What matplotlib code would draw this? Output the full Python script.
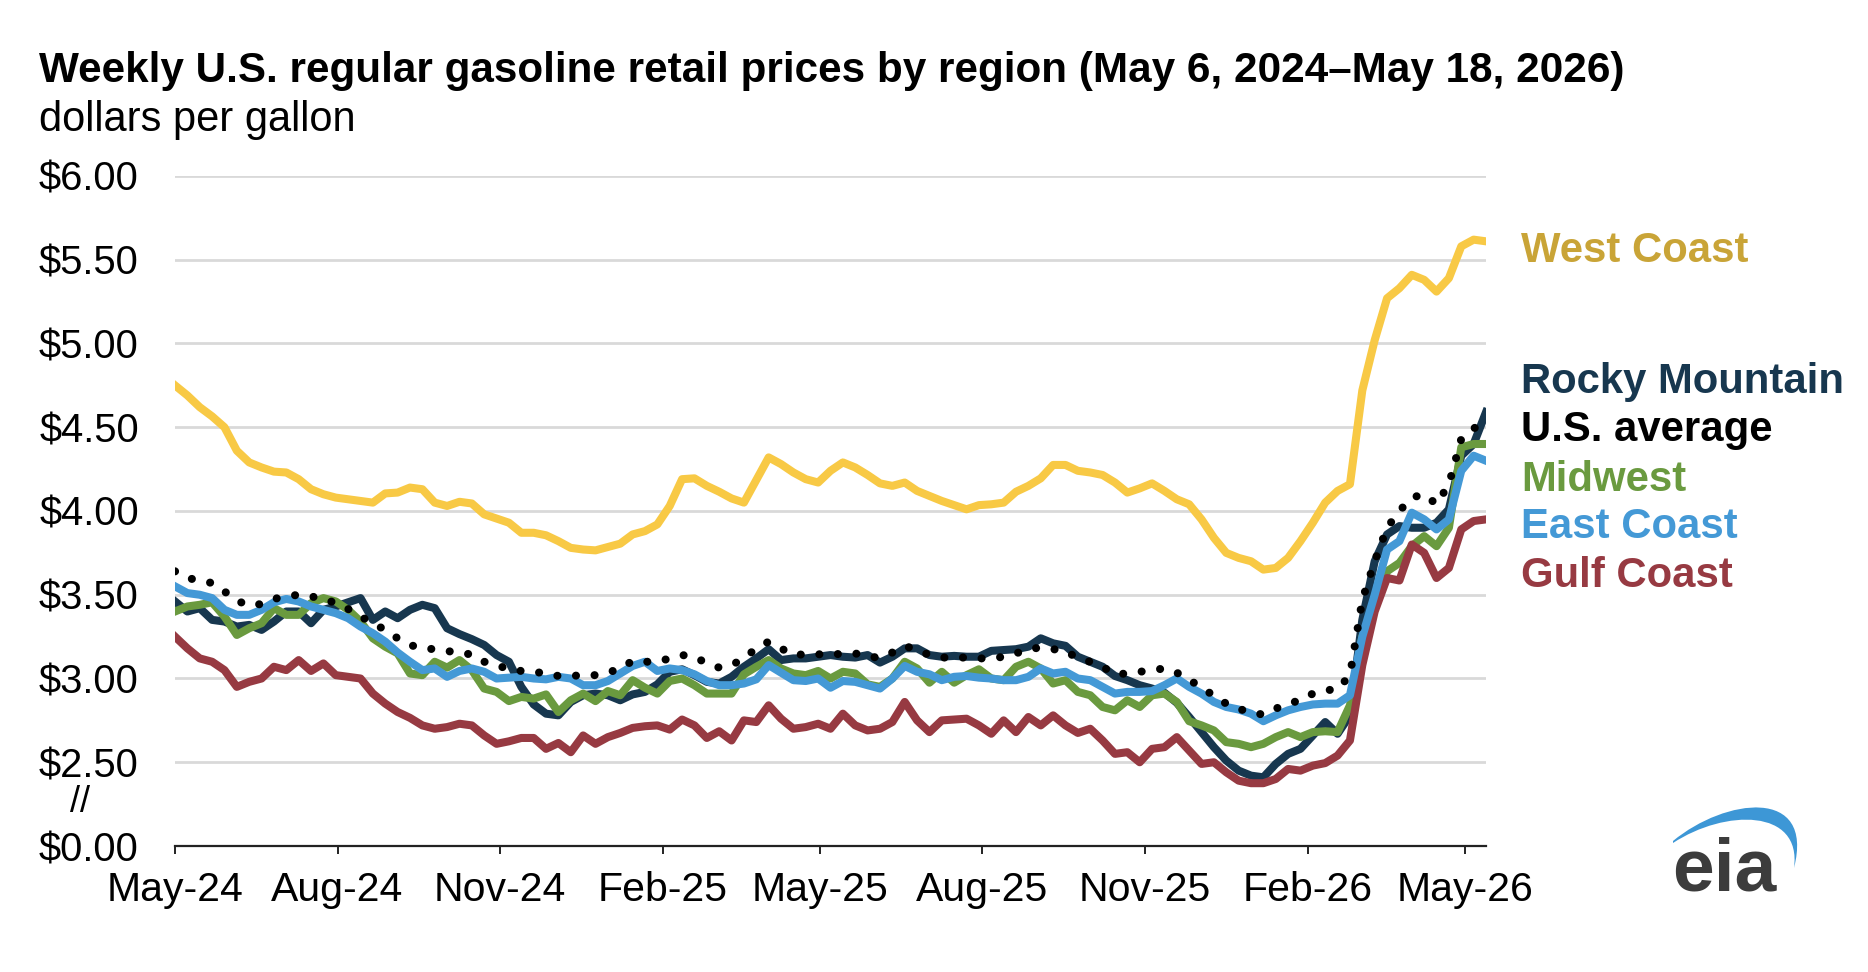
import matplotlib
matplotlib.use("Agg")
import matplotlib.pyplot as plt
import matplotlib.dates as mdates
from matplotlib.path import Path
from matplotlib.patches import PathPatch
import numpy as np

plt.rcParams['font.family'] = ['Liberation Sans', 'DejaVu Sans']

# weekly observations, May 6, 2024 - May 18, 2026
weeks = np.arange(np.datetime64('2024-05-06'), np.datetime64('2026-05-19'), np.timedelta64(7, 'D'))

west_coast = [4.75, 4.69, 4.62, 4.565, 4.50, 4.36, 4.29, 4.26, 4.235, 4.23, 4.19, 4.13, 4.10, 4.08, 4.07, 4.06, 4.05, 4.105, 4.11, 4.14, 4.13, 4.05, 4.03, 4.055, 4.045,
              3.98, 3.955, 3.93, 3.87, 3.87, 3.855, 3.82, 3.78, 3.77, 3.765, 3.785, 3.805, 3.86, 3.88, 3.92, 4.03, 4.19, 4.195, 4.15, 4.115, 4.075, 4.05, 4.185, 4.32, 4.28,
              4.23, 4.19, 4.17, 4.24, 4.29, 4.26, 4.215, 4.165, 4.15, 4.17, 4.12, 4.09, 4.06, 4.035, 4.01, 4.035, 4.04, 4.05, 4.115, 4.15, 4.195, 4.275, 4.275, 4.24, 4.23,
              4.215, 4.17, 4.11, 4.135, 4.165, 4.12, 4.07, 4.04, 3.95, 3.84, 3.75, 3.72, 3.70, 3.65, 3.66, 3.72, 3.82, 3.93, 4.05, 4.12, 4.16, 4.72, 5.02, 5.27, 5.33,
              5.41, 5.38, 5.31, 5.39, 5.58, 5.62, 5.61]

rocky_mountain = [3.46, 3.40, 3.42, 3.35, 3.34, 3.31, 3.32, 3.29, 3.34, 3.40, 3.40, 3.33, 3.41, 3.43, 3.455, 3.48, 3.35, 3.40, 3.36, 3.41, 3.44, 3.42, 3.30, 3.265, 3.235,
                  3.20, 3.14, 3.10, 2.95, 2.845, 2.79, 2.78, 2.86, 2.90, 2.91, 2.90, 2.87, 2.905, 2.92, 2.965, 3.04, 3.055, 3.02, 2.98, 2.97, 3.01, 3.07, 3.12, 3.175, 3.11,
                  3.12, 3.12, 3.13, 3.14, 3.13, 3.125, 3.14, 3.095, 3.13, 3.18, 3.18, 3.14, 3.13, 3.135, 3.13, 3.13, 3.165, 3.17, 3.175, 3.19, 3.24, 3.21, 3.195, 3.13, 3.10,
                  3.07, 3.015, 2.99, 2.96, 2.94, 2.915, 2.855, 2.77, 2.68, 2.59, 2.51, 2.45, 2.42, 2.41, 2.49, 2.55, 2.58, 2.66, 2.74, 2.67, 2.78, 3.35, 3.70, 3.86, 3.91,
                  3.90, 3.90, 3.93, 4.01, 4.33, 4.40, 4.59]

us_average = [3.64, 3.60, 3.585, 3.57, 3.52, 3.465, 3.435, 3.445, 3.475, 3.49, 3.50, 3.49, 3.475, 3.45, 3.415, 3.37, 3.33, 3.29, 3.24, 3.20, 3.18, 3.175, 3.165, 3.15, 3.145,
              3.10, 3.08, 3.055, 3.045, 3.04, 3.03, 3.015, 3.015, 3.02, 3.02, 3.035, 3.06, 3.105, 3.10, 3.10, 3.12, 3.14, 3.13, 3.09, 3.065, 3.08, 3.12, 3.18, 3.22, 3.18,
              3.14, 3.145, 3.145, 3.14, 3.15, 3.15, 3.13, 3.125, 3.155, 3.195, 3.17, 3.14, 3.125, 3.125, 3.125, 3.12, 3.12, 3.13, 3.15, 3.175, 3.185, 3.175, 3.165, 3.12, 3.10,
              3.07, 3.025, 3.03, 3.04, 3.05, 3.06, 3.035, 2.99, 2.95, 2.895, 2.85, 2.82, 2.795, 2.785, 2.82, 2.85, 2.87, 2.91, 2.93, 2.935, 3.02, 3.47, 3.70, 3.90, 4.00,
              4.08, 4.10, 4.04, 4.16, 4.43, 4.49, 4.56]

midwest = [3.40, 3.43, 3.44, 3.455, 3.37, 3.26, 3.30, 3.33, 3.42, 3.38, 3.38, 3.45, 3.48, 3.46, 3.41, 3.34, 3.24, 3.19, 3.15, 3.03, 3.02, 3.10, 3.065, 3.11, 3.05,
           2.94, 2.92, 2.865, 2.89, 2.88, 2.905, 2.80, 2.87, 2.91, 2.865, 2.925, 2.90, 2.99, 2.945, 2.91, 2.985, 3.00, 2.96, 2.91, 2.91, 2.91, 3.025, 3.07, 3.11, 3.06,
           3.03, 3.02, 3.045, 3.00, 3.04, 3.03, 2.965, 2.95, 3.00, 3.10, 3.06, 2.975, 3.04, 2.975, 3.02, 3.055, 3.00, 2.99, 3.07, 3.10, 3.06, 2.97, 2.99, 2.92, 2.90,
           2.83, 2.81, 2.87, 2.83, 2.90, 2.91, 2.86, 2.745, 2.72, 2.69, 2.62, 2.61, 2.59, 2.61, 2.65, 2.68, 2.65, 2.68, 2.685, 2.68, 2.84, 3.25, 3.42, 3.64, 3.69,
           3.79, 3.85, 3.79, 3.90, 4.38, 4.40, 4.40]

east_coast = [3.55, 3.51, 3.50, 3.48, 3.41, 3.38, 3.38, 3.41, 3.455, 3.475, 3.46, 3.43, 3.41, 3.39, 3.36, 3.31, 3.27, 3.22, 3.155, 3.10, 3.05, 3.06, 3.01, 3.045, 3.06,
              3.04, 3.00, 3.005, 3.01, 3.00, 2.995, 3.01, 3.00, 2.96, 2.96, 2.985, 3.03, 3.075, 3.10, 3.045, 3.06, 3.05, 3.025, 2.985, 2.96, 2.96, 2.97, 2.995, 3.08, 3.035,
              2.99, 2.985, 3.00, 2.945, 2.985, 2.98, 2.96, 2.94, 3.00, 3.075, 3.04, 3.025, 2.99, 3.01, 3.015, 3.005, 3.00, 2.99, 2.99, 3.01, 3.06, 3.03, 3.04, 3.00, 2.99,
              2.95, 2.91, 2.92, 2.92, 2.925, 2.96, 3.00, 2.95, 2.91, 2.86, 2.83, 2.815, 2.79, 2.745, 2.78, 2.81, 2.83, 2.845, 2.85, 2.85, 2.90, 3.25, 3.50, 3.77, 3.82,
              3.99, 3.95, 3.89, 3.95, 4.24, 4.33, 4.30]

gulf_coast = [3.25, 3.18, 3.12, 3.10, 3.05, 2.95, 2.98, 3.00, 3.07, 3.05, 3.11, 3.045, 3.09, 3.02, 3.01, 3.00, 2.91, 2.85, 2.80, 2.765, 2.72, 2.70, 2.71, 2.73, 2.72,
              2.66, 2.61, 2.625, 2.645, 2.645, 2.58, 2.615, 2.56, 2.66, 2.61, 2.65, 2.675, 2.705, 2.715, 2.72, 2.695, 2.755, 2.72, 2.645, 2.685, 2.63, 2.75, 2.74, 2.84, 2.76,
              2.70, 2.71, 2.73, 2.70, 2.79, 2.72, 2.69, 2.70, 2.74, 2.86, 2.75, 2.68, 2.75, 2.755, 2.76, 2.72, 2.67, 2.75, 2.68, 2.77, 2.72, 2.78, 2.72, 2.675, 2.70,
              2.63, 2.55, 2.56, 2.50, 2.58, 2.59, 2.65, 2.57, 2.49, 2.50, 2.44, 2.39, 2.375, 2.375, 2.40, 2.46, 2.45, 2.48, 2.495, 2.54, 2.63, 3.08, 3.40, 3.60, 3.585,
              3.80, 3.75, 3.60, 3.66, 3.89, 3.94, 3.95]

tick_dates = ['2024-05-06', '2024-08-06', '2024-11-06', '2025-02-06', '2025-05-06',
              '2025-08-06', '2025-11-06', '2026-02-06', '2026-05-06']
tick_labels = ['May-24', 'Aug-24', 'Nov-24', 'Feb-25', 'May-25', 'Aug-25', 'Nov-25', 'Feb-26', 'May-26']

# y axis is broken: the bottom tick ($0.00) sits where 2.00 would be
y_ticks = [2.0, 2.5, 3.0, 3.5, 4.0, 4.5, 5.0, 5.5, 6.0]
y_labels = ['$0.00', '$2.50', '$3.00', '$3.50', '$4.00', '$4.50', '$5.00', '$5.50', '$6.00']

W, H = 1868, 972
fig = plt.figure(figsize=(W / 100, H / 100), dpi=100)
ax = fig.add_axes([175 / W, 1 - 846 / H, (1486 - 175) / W, (846 - 176) / H])

lw = 5.8
ax.plot(weeks, rocky_mountain, color='#17374f', lw=lw, solid_joinstyle='round', zorder=3)
ax.plot(weeks, midwest, color='#6a9a3f', lw=lw, solid_joinstyle='round', zorder=3)
ax.plot(weeks, gulf_coast, color='#973a42', lw=lw, solid_joinstyle='round', zorder=3)
ax.plot(weeks, east_coast, color='#4499d6', lw=lw, solid_joinstyle='round', zorder=3)
ax.plot(weeks, west_coast, color='#f8c945', lw=lw, solid_joinstyle='round', zorder=3)
ax.plot(weeks, us_average, color='black', lw=lw, linestyle=(0, (0.01, 2.3)),
        dash_capstyle='round', zorder=4)

ax.set_xlim(np.datetime64('2024-05-06'), np.datetime64('2026-05-18'))
ax.set_ylim(2.0, 6.0)
ax.set_yticks(y_ticks)
ax.set_yticklabels(y_labels)
ax.set_xticks([mdates.datestr2num(d) for d in tick_dates])
ax.set_xticklabels(tick_labels)

ax.yaxis.grid(True, color='#d9d9d9', lw=2.0)
ax.set_axisbelow(True)
for s in ['left', 'right', 'top']:
    ax.spines[s].set_visible(False)
ax.spines['bottom'].set_color('#222222')
ax.spines['bottom'].set_linewidth(1.6)
ax.tick_params(axis='y', length=0, pad=26, labelsize=28.8)
ax.tick_params(axis='x', length=6, width=1.4, color='#222222', direction='out', pad=12, labelsize=29.5)

# overlay in pixel coordinates for titles, labels and logo
ov = fig.add_axes([0, 0, 1, 1])
ov.set_xlim(0, W)
ov.set_ylim(H, 0)
ov.axis('off')

ov.text(39, 82, 'Weekly U.S. regular gasoline retail prices by region (May 6, 2024\u2013May 18, 2026)',
        fontsize=30.4, fontweight='bold', va='baseline', ha='left')
ov.text(39, 131, 'dollars per gallon', fontsize=30, va='baseline', ha='left')

ov.text(80, 812, '//', fontsize=26, va='baseline', ha='center')

labels = [('West Coast', '#c9a437', 262),
          ('Rocky Mountain', '#17374f', 393),
          ('U.S. average', 'black', 441),
          ('Midwest', '#6a9a3f', 491),
          ('East Coast', '#4499d6', 538),
          ('Gulf Coast', '#973a42', 587)]
for txt, col, yb in labels:
    ov.text(1521, yb, txt, color=col, fontsize=30.2, fontweight='bold', va='baseline', ha='left')

# eia logo
ov.text(1724, 890, 'eia', color='#3c3c3c', fontsize=54, fontweight='bold', va='baseline', ha='center')
verts = [(1673, 841), (1725, 798), (1815, 786), (1794, 868),
         (1802, 808), (1725, 809), (1673, 843), (1673, 841)]
codes = [Path.MOVETO, Path.CURVE4, Path.CURVE4, Path.CURVE4,
         Path.CURVE4, Path.CURVE4, Path.CURVE4, Path.CLOSEPOLY]
ov.add_patch(PathPatch(Path(verts, codes), facecolor='#3d97d6', edgecolor='none'))

fig.savefig('out.png', dpi=100)
